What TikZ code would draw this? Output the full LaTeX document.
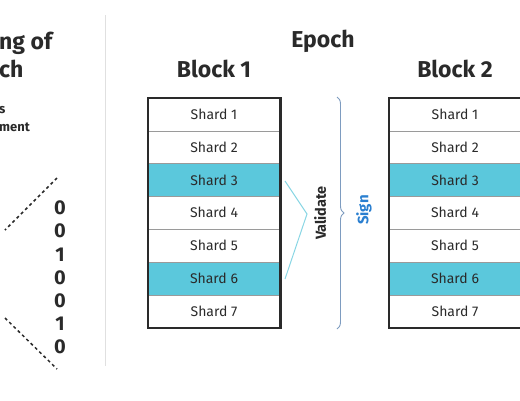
\documentclass[tikz,border=0pt]{standalone}
\usepackage{fontspec}
\setmainfont{Fira Sans}
\usetikzlibrary{decorations.pathreplacing}
\definecolor{shardcyan}{HTML}{5BC8DC}
\definecolor{txtdark}{HTML}{2A2A2A}
\definecolor{rowline}{HTML}{9A9A9A}
\definecolor{valblue}{HTML}{8AD6E4}
\definecolor{signblue}{HTML}{2A7FD0}
\definecolor{bracecol}{HTML}{7E9CC0}
\tikzset{
  shard/.style={minimum width=132pt, minimum height=32.8pt, inner sep=0pt, draw=rowline, line width=0.6pt, font=\fontsize{14}{16}\selectfont, text=txtdark},
  hl/.style={fill=shardcyan},
  blocktitle/.style={font=\fontsize{23}{26}\selectfont\bfseries, text=txtdark},
  border/.style={draw=txtdark, line width=2.4pt},
  bit/.style={font=\fontsize{20}{21}\selectfont\bfseries, text=txtdark, inner sep=0pt},
  dotline/.style={draw=txtdark, line width=1.5pt, dash pattern=on 3pt off 3pt},
}
\begin{document}
\begin{tikzpicture}[x=1pt,y=-1pt]
\useasboundingbox (0,0) rectangle (520,400);
% separator
\draw[black!12, line width=1pt] (105,15) -- (105,366);
% left titles (cut)
\node[anchor=west, blocktitle, inner sep=0pt] (t1) at (-1,43) {ng of};
\node[anchor=west, blocktitle, inner sep=0pt] (t2) at (-1,69) {ch};
\node[anchor=west, font=\fontsize{13}{15}\selectfont\bfseries, text=txtdark, inner sep=0pt] (t3) at (-1,110) {s};
\node[anchor=west, font=\fontsize{13}{15}\selectfont\bfseries, text=txtdark, inner sep=0pt] (t4) at (-1,127) {ment};
% bits
\foreach \b [count=\i] in {0,0,1,0,0,1,0}{
  \node[bit] (bit\i) at (60,{208+(\i-1)*23.2}) {\b};
}
\coordinate (d1a) at (57,178);
\coordinate (d1b) at (5,230);
\coordinate (d2a) at (5,318);
\coordinate (d2b) at (57,369);
\draw[dotline] (d1a) -- (d1b);
\draw[dotline] (d2a) -- (d2b);
% Epoch
\node[blocktitle] (epoch) at (323,41) {Epoch};
\node[blocktitle] (bt1) at (214,69) {Block 1};
\node[blocktitle] (bt2) at (455,69) {Block 2};
% blocks
\foreach \blk/\x in {1/214, 2/455}{
  \foreach \i in {1,...,7}{
    \ifnum\i=3 \def\st{hl}\else\ifnum\i=6 \def\st{hl}\else\def\st{}\fi\fi
    \node[shard,\st] (b\blk s\i) at (\x,{114.4+(\i-1)*32.8}) {Shard \i};
  }
  \draw[border] (b\blk s1.north west) rectangle (b\blk s7.south east);
}
% validate chevron
\coordinate (v1) at (285,181);
\coordinate (v2) at (307,214);
\coordinate (v3) at (285,279);
\draw[valblue, line width=1pt] (v1) -- (v2) -- (v3);
\node[rotate=90, font=\fontsize{14.5}{16}\selectfont\bfseries, text=txtdark] (val) at (320,213) {Validate};
% brace
\coordinate (br1) at (337,97);
\coordinate (br2) at (337,329);
\draw[bracecol, line width=0.9pt, decorate, decoration={brace, amplitude=7pt}] (br1) -- (br2);
\node[rotate=90, font=\fontsize{15}{17}\selectfont\bfseries, text=signblue] (sign) at (364,210) {Sign};
\end{tikzpicture}
\end{document}
